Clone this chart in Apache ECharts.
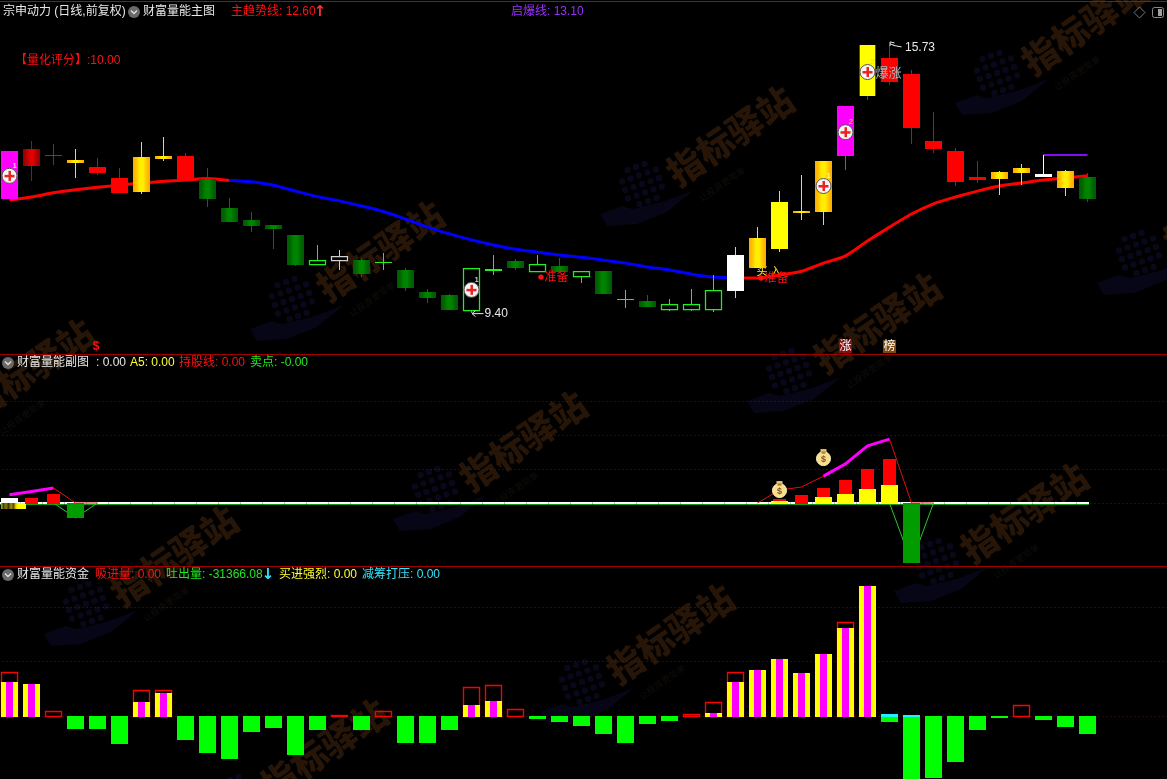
<!DOCTYPE html>
<html><head><meta charset="utf-8">
<style>html,body{margin:0;padding:0;background:#000}#c{width:1167px;height:779px}</style>
<script src="https://cdn.jsdelivr.net/npm/echarts@6/dist/echarts.min.js"></script>
</head><body><div id="c"></div>
<script>
// ---------- data ----------
const categories = Array.from({length:54},(_,i)=>String(i+1));
const bodyTop = [13.23,13.27,13.14,13.01,12.85,12.59,13.08,13.11,13.11,12.57,11.88,11.60,11.48,11.24,10.65,10.75,10.65,10.61,10.42,9.90,9.83,10.47,10.44,10.63,10.56,10.51,10.40,10.40,9.73,9.69,9.62,9.62,9.94,10.77,11.17,12.02,11.81,12.99,14.29,15.73,15.42,15.04,13.46,13.23,12.61,12.73,12.83,12.68,12.75,12.61];
const bodyBottom = [12.09,12.87,13.14,12.94,12.71,12.24,12.26,13.04,12.57,12.09,11.55,11.46,11.39,10.54,10.56,10.65,10.32,10.61,10.00,9.76,9.47,9.47,10.40,10.47,10.40,10.37,10.28,9.85,9.73,9.54,9.50,9.50,9.50,9.92,10.47,10.91,11.77,11.79,13.11,14.53,14.85,13.77,13.27,12.50,12.54,12.57,12.71,12.61,12.35,12.09];
const highs = [13.23,13.46,13.39,13.27,13.06,12.83,13.44,13.56,13.18,12.83,12.12,11.79,11.48,11.24,11.01,10.89,10.70,10.82,10.47,9.97,9.85,10.47,10.77,10.68,10.77,10.70,10.40,10.40,9.94,9.83,9.73,9.97,10.30,10.96,11.43,12.28,12.66,12.99,14.29,15.73,15.73,15.14,14.15,13.30,12.99,12.75,12.92,13.13,12.78,12.71];
const lows = [12.09,12.52,12.90,12.59,12.66,12.24,12.21,12.99,12.57,11.90,11.55,11.32,10.91,10.51,10.56,10.42,10.25,10.42,9.92,9.64,9.47,9.40,10.30,10.42,10.37,10.37,10.11,9.85,9.52,9.54,9.45,9.45,9.43,9.76,10.47,10.84,11.60,11.48,12.78,14.43,14.78,13.39,13.18,12.40,12.47,12.19,12.42,12.61,12.16,12.02];
const candleKinds = ['magenta','darkred','red','gold','red','red','gold','gold','red','green','green','green','green','green','hollow','hollowGray','green','bright','green','green','green','hollow','bright','green','hollow','green','hollow','green','bright','green','hollow','hollow','hollow','white','gold','yellow','gold','gold','magenta','yellowRed','red','red','red','red','red','gold','gold','whiteDoji','gold','green'];
const trend = [12.07,12.14,12.24,12.31,12.37,12.42,12.47,12.51,12.54,12.58,12.53,12.50,12.42,12.28,12.15,12.05,11.93,11.80,11.62,11.43,11.27,11.13,11.01,10.91,10.84,10.77,10.72,10.65,10.58,10.49,10.42,10.32,10.25,10.23,10.23,10.30,10.39,10.58,10.75,11.10,11.43,11.74,11.98,12.14,12.28,12.40,12.47,12.54,12.59,12.64];
const trendBlueFrom = 10, trendBlueTo = 33;
const breakoutLine = {47:13.13,48:13.13,49:13.13};
const plusIcons = [[0,12.64,'1'],[21,9.95,'1'],[37,12.40,'1'],[38,13.67,'2'],[39,15.09,'2']];
const extremes = [[21,9.40,'9.40','low'],[40,15.73,'15.73','high']];
const prepareMarks = [[24,10.25],[34,10.23]];
const buyMark = [34,10.37];
const surgeMark = [39,15.06];
const tags = [[38,8.61,'涨'],[40,8.61,'榜']];
const dollarMark = [4,8.6];

// sub pane
const subWhite = {0:1.5};
const subYellow = {0:-1.8,35:0.6,37:1.8,38:2.6,39:4.1,40:5.3};
const subRed = {1:1.5,2:2.6,35:1.2,36:2.4,37:4.4,38:6.8,39:10,40:12.9};
const subGreen = {3:-4.4,41:-17.6};
const subPink = [2.4,3.4,4.4,null,null,null,null,null,null,null,null,null,null,null,null,null,null,null,null,null,null,null,null,null,null,null,null,null,null,null,null,null,null,null,null,null,null,7.9,11.5,16.8,18.8];
const subThinRed = [null,null,4.4,0,0,null,null,null,null,null,null,null,null,null,null,null,null,null,null,null,null,null,null,null,null,null,null,null,null,null,null,null,null,null,0,3.8,4.7,7.9,11.5,16.8,18.8,0,0];
const subThinGreen = [null,null,0,-4.4,0,null,null,null,null,null,null,null,null,null,null,null,null,null,null,null,null,null,null,null,null,null,null,null,null,null,null,null,null,null,null,null,null,null,null,null,0,-17.6,0];
const moneyBags = [[35,4.1],[37,13.5]];
const subGridValues = [0,10,20,30];

// fund pane
const fundBuy = {0:59230,1:55740,6:24390,7:40070,21:19160,22:26130,32:5230,33:59230,34:80130,35:99290,36:74910,37:108000,38:153300,39:226460};
const fundOutline = {0:76650,2:8710,6:45290,7:45290,15:1740,17:8710,21:50520,22:54000,23:12190,31:3480,32:24390,33:76650,38:163750,46:19160};
const fundOut = {3:22650,4:22650,5:48780,8:41810,9:64450,10:74910,11:27870,12:20900,13:67940,14:24390,16:24390,18:47030,19:47030,20:24390,24:5230,25:10450,26:17420,27:31360,28:47030,29:13940,30:8710,40:10450,41:109700,42:108000,43:80130,44:24390,45:3480,47:6970,48:19160,49:31366};
const fundCyan = {40:3480,41:1740};
const fundGridValues = [0,95000,190000];

const headerTexts = [
 ['宗申动力 (日线,前复权)',3,12,'#e8e8e8'],['财富量能主图',143,12,'#e8e8e8'],['主趋势线: 12.60',231,12,'#ff1010'],['启爆线: 13.10',511,12,'#9a30ff'],
 ['【量化评分】:10.00',15,61,'#ff1010'],
 ['财富量能副图',17,363,'#e8e8e8'],[': 0.00',96,363,'#e8e8e8'],['A5: 0.00',130,363,'#ffff30'],['持股线: 0.00',179,363,'#ff1010'],['卖点: -0.00',250,363,'#20e820'],
 ['财富量能资金',17,575,'#e8e8e8'],['吸进量: 0.00',95,575,'#ff1010'],['吐出量: -31366.08',166,575,'#20e820'],['买进强烈: 0.00',279,575,'#ffff30'],['减筹打压: 0.00',362,575,'#30e8ff']
];
const arrowTexts = [['↑',320,12,'#ff3030'],['↓',268,575,'#30e8ff']];
const menuIcons = [[134,12],[8,363],[8,575]];
const watermarks = [[1085,25],[730,136],[380,251],[30,369],[1227,205],[877,323],[523,441],[174,556],[1024,513],[670,634],[324,749]];

// ---------- drawing ----------
const FONT = '"Liberation Sans","Noto Sans CJK SC",sans-serif';
const LG = (stops)=>new echarts.graphic.LinearGradient(0,0,1,0,stops.map((c,i)=>({offset:i/(stops.length-1),color:c})));
const kindStyle = {
 magenta:{fill:'#ff00ff',wick:'#ff00ff'},
 darkred:{fill:LG(['#8a0000','#b00000','#e00000','#e00000','#b00000','#8a0000']),wick:'#c00000'},
 red:{fill:'#ff0000',wick:'#e00000'},
 gold:{fill:LG(['#ffa800','#ffc400','#ffee00','#ffee00','#ffc400','#ffa800']),wick:'#ffe000'},
 yellow:{fill:'#ffff00',wick:'#ffe000'},
 yellowRed:{fill:'#ffff00',wick:'#c02000',edge:'#ff0000'},
 white:{fill:'#ffffff',wick:'#ffe000'},
 whiteDoji:{fill:'#ffffff',wick:'#ffffff'},
 green:{fill:LG(['#005800','#006800','#008400','#008400','#006800','#005800']),wick:'#007800'},
 bright:{fill:'#20f020',wick:'#20f020'},
 hollow:{hollow:'#20f020',wick:'#20f020'},
 hollowGray:{hollow:'#d0d0d0',wick:'#d0d0d0'}
};
const candleData = bodyTop.map((t,i)=>[i,bodyBottom[i],t,lows[i],highs[i]]);
function rect(x,y,w,h,fill){return {type:'rect',shape:{x,y,width:w,height:h},style:{fill},silent:true};}
function seg(x1,y1,x2,y2,stroke,lw){return {type:'line',shape:{x1,y1,x2,y2},style:{stroke,lineWidth:lw||1},silent:true};}
function txt(t,x,y,fill,font,align){return {type:'text',style:{text:t,x,y,fill,font:font||('12px '+FONT),align:align||'left',verticalAlign:'middle',textAlign:align||'left',textVerticalAlign:'middle'},silent:true};}

function renderCandle(params,api){
 const i=api.value(0), s=kindStyle[candleKinds[i]];
 const c=api.coord([i,api.value(2)])[0];
 const yT=Math.round(api.coord([i,api.value(2)])[1]), yB=Math.round(api.coord([i,api.value(1)])[1]);
 const yL=Math.round(api.coord([i,api.value(3)])[1]), yH=Math.round(api.coord([i,api.value(4)])[1]);
 const h=Math.max(1,yB-yT), kids=[];
 if(s.hollow){
  if(yH<yT)kids.push(seg(c,yH,c,yT,s.wick));
  if(yL>yT+h)kids.push(seg(c,yT+h,c,yL,s.wick));
  kids.push({type:'rect',shape:{x:c-8,y:yT+.5,width:16,height:Math.max(1,h)},style:{fill:'none',stroke:s.hollow,lineWidth:1.25},silent:true});
 }else{
  kids.push(seg(c,yH,c,yL,s.wick));
  if(s.edge){kids.push(rect(c-8.5,yT,17,h,s.edge));kids.push(rect(c-7.5,yT,15,h,s.fill));}
  else kids.push(rect(c-8.5,yT,17,h,s.fill));
 }
 return {type:'group',children:kids};
}
function renderPlus(params,api){
 const p=api.coord([api.value(0),api.value(1)]), tag=plusIcons[params.dataIndex][2];
 const x=p[0],y=p[1];
 return {type:'group',children:[
  {type:'circle',shape:{cx:x,cy:y,r:7.5},style:{fill:'#f4f4f4',stroke:'#555',lineWidth:1},silent:true},
  rect(x-5,y-1,10,2.5,'#ee2020'),rect(x-1,y-5,2.5,10,'#ee2020'),
  txt(tag,x+3,y-10,tag==='2'?'#e8e020':'#ffffff','8px '+FONT)
 ]};
}
function renderExtreme(params,api){
 const e=extremes[params.dataIndex], p=api.coord([e[0],e[1]]), x=p[0],y=p[1];
 if(e[3]==='low') return {type:'group',children:[
   seg(x+0.5,y+.5,x+12,y+.5,'#e8e8e8'),seg(x+.5,y+.5,x+4,y-2.5,'#e8e8e8'),seg(x+.5,y+.5,x+4,y+3.5,'#e8e8e8'),
   txt(e[2],x+13,y+1,'#e8e8e8','12px '+FONT)]};
 return {type:'group',children:[
   seg(x+.5,y-3,x+.5,y+1,'#e8e8e8'),seg(x+.5,y-3,x+5,y-2,'#e8e8e8'),seg(x+.5,y-1,x+5,y+.5,'#e8e8e8'),seg(x+4,y+.5,x+12,y+2,'#e8e8e8'),
   txt(e[2],x+15.5,y+3,'#e8e8e8','12px '+FONT)]};
}
function renderPrepare(params,api){
 const p=api.coord([api.value(0),api.value(1)]);
 return {type:'group',children:[
  {type:'circle',shape:{cx:p[0]+3.5,cy:p[1],r:2.7},style:{fill:'#ff1010'},silent:true},
  txt('准备',p[0]+7,p[1]+1,'#ff1010','12px '+FONT)]};
}
function renderSubBars(params,api){
 const i=api.value(0), c=api.coord([i,0])[0], y0=Math.round(api.coord([i,0])[1]), kids=[];
 const Y=v=>Math.round(api.coord([i,v])[1]);
 if(subGreen[i]!=null)kids.push(rect(c-8.5,y0,17,Y(subGreen[i])-y0,'#009c00'));
 if(subRed[i]!=null)kids.push(rect(c-6.5,Y(subRed[i]),13,y0-Y(subRed[i])+1,'#ff0000'));
 if(subWhite[i]!=null)kids.push(rect(c-8.5,Y(subWhite[i]),17,y0-Y(subWhite[i]),'#ffffff'));
 const yv=subYellow[i];
 if(yv!=null){
  if(yv<0)kids.push(rect(c-8.5,y0,25,Y(yv)-y0,LG(['#c8b800','#4a4200','#8a7c10','#3e3800','#a09010','#5a5000','#e8d800','#ffff00','#ffff00','#ffff00','#ffff00'])));
  else kids.push(rect(c-8.5,Y(yv),17,y0-Y(yv)+1,'#ffff00'));
 }
 return {type:'group',children:kids};
}
function renderBaseline(params,api){
 const i=api.value(0), c=api.coord([i,0])[0], y=Math.round(api.coord([i,0])[1]);
 const l=i===0?-1:c-11, r=i===49?c+1.5:c+11;
 return {type:'group',children:[rect(l,y+1,r-l,1,'#0f9a0f'),rect(l,y-1,r-l,2,'#ffffff')]};
}
function renderBag(params,api){
 const p=api.coord([api.value(0),api.value(1)]),x=p[0],y=p[1];
 return {type:'group',children:[
  {type:'circle',shape:{cx:x,cy:y+1.5,r:7},style:{fill:'#f8e088',stroke:'#fff4c8',lineWidth:1},silent:true},
  rect(x-3,y-8,6,3,'#e8c860'),rect(x-2,y-5.5,4,2,'#a87830'),
  txt('$',x,y+2,'#8a4a30','bold 9px '+FONT,'center')]};
}
function renderFund(params,api){
 const i=api.value(0), c=api.coord([i,0])[0], y0=Math.round(api.coord([i,0])[1]), kids=[];
 const Y=v=>Math.round(api.coord([i,v])[1]);
 if(fundOut[i]!=null)kids.push(rect(c-8.5,y0,17,Y(-fundOut[i])-y0,'#00ff00'));
 if(fundOutline[i]!=null){const t=Y(fundOutline[i]);kids.push({type:'rect',shape:{x:c-8,y:t+.5,width:16,height:y0-t},style:{fill:'none',stroke:'#ff0000',lineWidth:1.35},silent:true});}
 if(fundBuy[i]!=null){const t=Y(fundBuy[i]);kids.push(rect(c-8.5,t,17,y0-t+1,'#ffff00'));kids.push(rect(c-3.5,t,7,y0-t+1,'#ff00ff'));}
 if(fundCyan[i]!=null){const t=Y(fundCyan[i]);kids.push(rect(c-8.5,t,17,y0-t+1,'#20f0ff'));}
 return {type:'group',children:kids};
}
const allIdx = bodyTop.map((_,i)=>[i,0]);
const dotted = vals=>({silent:true,symbol:'none',animation:false,z:1,label:{show:false},lineStyle:{color:'#5e1818',type:[1,3],width:1},data:vals.map(v=>({yAxis:v}))});
const fromMap = m=>bodyTop.map((_,i)=>m[i]===undefined?null:m[i]);
const trendRed = trend.map((v,i)=>(i<=trendBlueFrom||i>=trendBlueTo)?v:null);
const trendBlue = trend.map((v,i)=>(i>=trendBlueFrom&&i<=trendBlueTo)?v:null);
const lineS=(data,color,w,gi,z,extra)=>Object.assign({type:'line',data,xAxisIndex:gi,yAxisIndex:gi,symbol:'none',showSymbol:false,connectNulls:false,lineStyle:{color,width:w},z,silent:true,animation:false},extra||{});
const cust=(data,renderItem,gi,z,encode)=>({type:'custom',data,renderItem,xAxisIndex:gi,yAxisIndex:gi,z,silent:true,animation:false,encode:encode||{x:0,y:1}});

// background watermark + chrome
const gfx=[];
watermarks.forEach(w=>{
 const x=w[0],y=w[1];
 const gx=x-88,gy=y+48;
 for(let a=-3;a<=3;a++)for(let b=-3;b<=3;b++){
   const dx=a*8.5+b*3, dy=b*8.5-a*3;
   if(dx*dx+dy*dy<500) gfx.push({type:'circle',shape:{cx:gx+dx,cy:gy+dy,r:3.2},style:{fill:'#08081a'},silent:true});
 }
 gfx.push({type:'polygon',shape:{points:[[gx-42,gy+30],[gx-20,gy+22],[gx-10,gy+25],[gx+20,gy+18],[gx+52,gy+6],[gx+25,gy+28],[gx-5,gy+40],[gx-35,gy+42]]},style:{fill:'#060616'},silent:true});
 gfx.push({type:'text',x,y,rotation:0.6,style:{text:'指标驿站',fill:'#271507',font:'900 36px "Noto Sans CJK SC"',align:'center',verticalAlign:'middle',textAlign:'center',textVerticalAlign:'middle'},silent:true});
 gfx.push({type:'text',x:x-8,y:y+48,rotation:0.6,style:{text:'让投资更简单',fill:'#120e0a',font:'9px "Noto Sans CJK SC"',align:'center',verticalAlign:'middle',textAlign:'center',textVerticalAlign:'middle'},silent:true});
});
gfx.push({type:'rect',shape:{x:0,y:1,width:1167,height:1},style:{fill:'#3a3a3a'},silent:true});
gfx.push({type:'rect',shape:{x:0,y:354,width:1167,height:1},style:{fill:'#a00000'},silent:true});
gfx.push({type:'rect',shape:{x:0,y:566,width:1167,height:1},style:{fill:'#a00000'},silent:true});
headerTexts.forEach(t=>gfx.push({type:'text',x:t[1],y:t[2],style:{text:t[0],fill:t[3],font:'12px '+FONT,align:'left',verticalAlign:'middle',textAlign:'left',textVerticalAlign:'middle'},silent:true}));
arrowTexts.forEach(t=>gfx.push({type:'text',x:t[1],y:t[2],style:{text:t[0],fill:t[3],font:'bold 15px "DejaVu Sans"',align:'center',verticalAlign:'middle',textAlign:'center',textVerticalAlign:'middle'},silent:true}));
menuIcons.forEach(m=>{
 gfx.push({type:'circle',shape:{cx:m[0],cy:m[1],r:6},style:{fill:'#6a6a6a'},silent:true});
 gfx.push({type:'polyline',shape:{points:[[m[0]-3,m[1]-1.5],[m[0],m[1]+1.5],[m[0]+3,m[1]-1.5]]},style:{stroke:'#e0e0e0',lineWidth:1.4,fill:'none'},silent:true});
});
gfx.push({type:'polygon',shape:{points:[[1139.5,7],[1145,12.5],[1139.5,18],[1134,12.5]]},style:{stroke:'#7a7a7a',fill:'none',lineWidth:1},silent:true});
gfx.push({type:'rect',shape:{x:1152.5,y:7.5,width:11,height:10,r:2},style:{stroke:'#8a8a8a',fill:'none',lineWidth:1},silent:true});
gfx.push({type:'rect',shape:{x:1158,y:9,width:4,height:7},style:{fill:'#a0a0a0'},silent:true});

const grids=[{left:-1.5,width:1188,top:0,height:354,outerBoundsMode:'none'},{left:-1.5,width:1188,top:355,height:210,outerBoundsMode:'none'},{left:-1.5,width:1188,top:566,height:213,outerBoundsMode:'none'}];
const option={
 backgroundColor:'#000000',animation:false,
 grid:grids,
 xAxis:grids.map((g,i)=>({type:'category',gridIndex:i,data:categories,show:false})),
 yAxis:[
  {type:'value',gridIndex:0,min:8.4356,max:16.79,show:false},
  {type:'value',gridIndex:1,min:-18.24,max:43.53,show:false},
  {type:'value',gridIndex:2,min:-109746,max:261300,show:false}
 ],
 graphic:{elements:gfx},
 series:[
  cust([buyMark],(p,api)=>{const q=api.coord([api.value(0),api.value(1)]);return txt('买 入',q[0]-1,q[1],'#ffe820','11px '+FONT);},0,2),
  lineS(trendRed,'#ff0000',3,0,3,{smooth:0.25}),
  lineS(trendBlue,'#0000ff',3,0,3,{smooth:0.25}),
  lineS(fromMap(breakoutLine),'#8010f0',2,0,3),
  cust(candleData,renderCandle,0,4,{x:0,y:[1,2,3,4]}),
  cust(prepareMarks,renderPrepare,0,5),
  cust(plusIcons.map(p=>[p[0],p[1]]),renderPlus,0,6),
  cust(extremes.map(e=>[e[0],e[1]]),renderExtreme,0,6),
  cust([surgeMark],(p,api)=>{const q=api.coord([api.value(0),api.value(1)]);return txt('爆涨',q[0]+8,q[1],'#b0b0b0','13px '+FONT);},0,7),
  cust(tags.map(t=>[t[0],t[1]]),(p,api)=>{
    const t=tags[p.dataIndex],q=api.coord([api.value(0),api.value(1)]);
    return {type:'group',children:[rect(q[0]-6.5,q[1]-6.5,13,13,t[2]==='涨'?'#8a1010':'#7a4a10'),txt(t[2],q[0],q[1]+.5,'#ffffff','12px '+FONT,'center')]};
  },0,5),
  cust([dollarMark],(p,api)=>{const q=api.coord([api.value(0),api.value(1)]);return txt('$',q[0]-1.5,q[1],'#ff1010','bold 12px '+FONT,'center');},0,5),

  // sub pane
  lineS(subGridValues.map(()=>null),'#000',0,1,1,{markLine:dotted(subGridValues)}),
  cust(allIdx,renderBaseline,1,2),
  lineS(subThinGreen,'#20d020',1,1,3),
  cust(allIdx,renderSubBars,1,4),
  lineS(subThinRed,'#e01010',1,1,5),
  lineS(subPink,'#ff00ff',3,1,6),
  cust(moneyBags,renderBag,1,7),

  // fund pane
  lineS(fundGridValues.map(()=>null),'#000',0,2,1,{markLine:dotted(fundGridValues)}),
  cust(allIdx,renderFund,2,3)
 ]
};
const chart=echarts.init(document.getElementById('c'),null,{renderer:'canvas',width:1167,height:779});
chart.setOption(option);
</script></body></html>
